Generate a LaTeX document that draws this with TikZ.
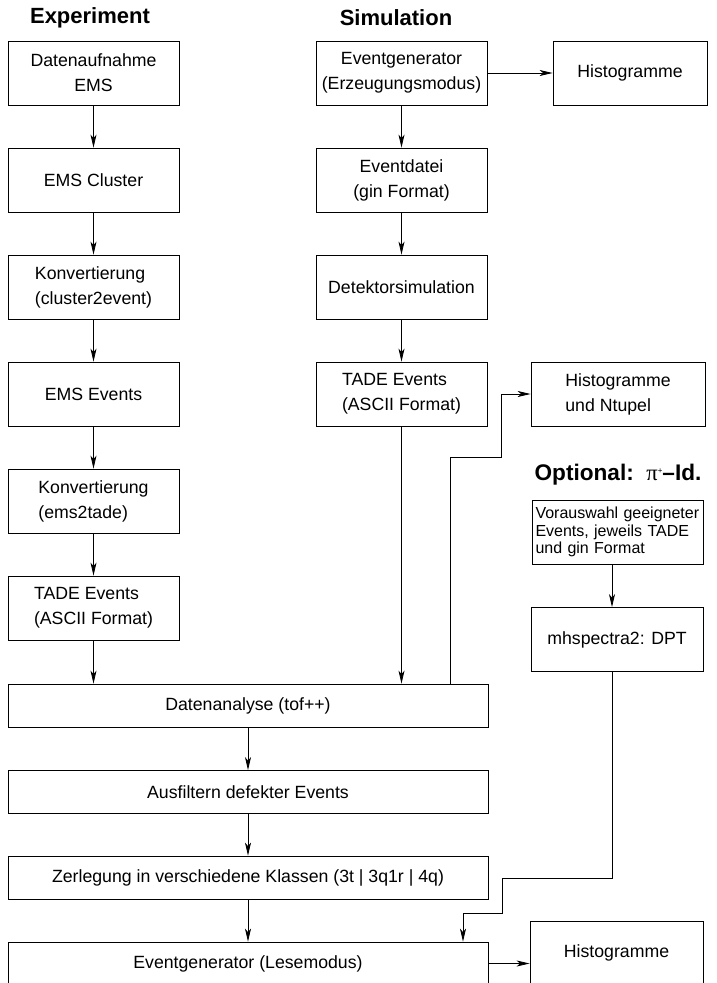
\documentclass[tikz,border=0pt]{standalone}
\usepackage{fontspec}
\setmainfont{Liberation Sans}
\newfontfamily\serifpi{Liberation Serif}
\usetikzlibrary{arrows.meta}
\begin{document}
\begin{tikzpicture}[x=1pt,y=-1pt,
  box/.style={draw, line width=0.8pt, minimum height=64pt, inner sep=0pt, font=\fontsize{17.7}{25}\selectfont},
  lbox/.style={box, minimum width=171pt},
  wbox/.style={box, minimum width=480pt, minimum height=43pt},
  title/.style={font=\fontsize{22}{26}\selectfont\bfseries},
  arr/.style={-{Stealth[length=13pt,width=6pt,inset=3.5pt]}, line width=0.8pt},
  ln/.style={line width=0.8pt}]
\useasboundingbox (0,0) rectangle (717,983);
\clip (0,0) rectangle (717,983);
% titles
\node[title] (t1) at (90,18) {Experiment};
\node[title] (t2) at (396,18) {Simulation};
% experiment column
\node[lbox, align=center] (d1) at (93.5,73) {Datenaufnahme\\EMS};
\node[lbox] (d2) at (93.5,180) {EMS Cluster};
\node[lbox, align=left] (d3) at (93.5,287) {Konvertierung\\(cluster2event)};
\node[lbox] (d4) at (93.5,394) {EMS Events};
\node[lbox, align=left] (d5) at (93.5,501) {Konvertierung\\(ems2tade)};
\node[lbox, align=left] (d6) at (93.5,608) {TADE Events\\(ASCII Format)};
% simulation column
\node[lbox, align=center] (s1) at (401.5,73) {Eventgenerator\\(Erzeugungsmodus)};
\node[lbox, align=center] (s2) at (401.5,180) {Eventdatei\\(gin Format)};
\node[lbox] (s3) at (401.5,287) {Detektorsimulation};
\node[lbox, align=left] (s4) at (401.5,394) {TADE Events\\(ASCII Format)};
% right column
\node[box, minimum width=154pt] (h1) at (630,73) {Histogramme};
\node[box, minimum width=174pt, align=left] (h2) at (618,394) {Histogramme\\und Ntupel};
\node[title, font=\fontsize{22.6}{26}\selectfont\bfseries] (opt) at (618,475) {Optional:\ \ {\mdseries\serifpi π}\raisebox{7pt}{\fontsize{8}{8}\selectfont\mdseries +}--Id.};
\node[box, minimum width=171pt, minimum height=64pt, align=left, text width=164pt,
      font=\fontsize{16}{17.5}\selectfont] (v) at (617.5,532) {Vorauswahl geeigneter\\Events, jeweils TADE\\und gin Format};
\node[box, minimum width=172pt] (m) at (617,639.5) {mhspectra2: DPT};
% wide boxes
\node[wbox] (a) at (248,705.5) {Datenanalyse (tof++)};
\node[wbox] (b) at (248,792) {Ausfiltern defekter Events};
\node[wbox] (c) at (248,877.5) {Zerlegung in verschiedene Klassen (3t | 3q1r | 4q)};
\node[wbox] (e) at (248,963.5) {Eventgenerator (Lesemodus)};
\node[box, minimum width=173pt] (h3) at (616.5,953) {Histogramme};
% helper coordinates
\coordinate (ax) at (450,0);
\coordinate (k) at (501,457);
\coordinate (mx) at (612,0);
\coordinate (j1) at (502,878);
\coordinate (j2) at (463,913);
% connectors
\draw[arr] (d1.south) -- (d2.north);
\draw[arr] (d2.south) -- (d3.north);
\draw[arr] (d3.south) -- (d4.north);
\draw[arr] (d4.south) -- (d5.north);
\draw[arr] (d5.south) -- (d6.north);
\draw[arr] (d6.south) -- (d6.south |- a.north);
\draw[arr] (s1.south) -- (s2.north);
\draw[arr] (s2.south) -- (s3.north);
\draw[arr] (s3.south) -- (s4.north);
\draw[arr] (s4.south) -- (s4.south |- a.north);
\draw[arr] (s1.east) -- (h1.west);
\draw[arr] (a.north -| ax) |- (k) |- (h2.west);
\draw[arr] (v.south -| mx) -- (m.north -| mx);
\draw[arr] (m.south -| mx) |- (j1) |- (j2) -- (j2 |- e.north);
\draw[arr] (a.south) -- (b.north);
\draw[arr] (b.south) -- (c.north);
\draw[arr] (c.south) -- (e.north);
\draw[arr] (e.east) -- (e.east -| h3.west);
\end{tikzpicture}
\end{document}
